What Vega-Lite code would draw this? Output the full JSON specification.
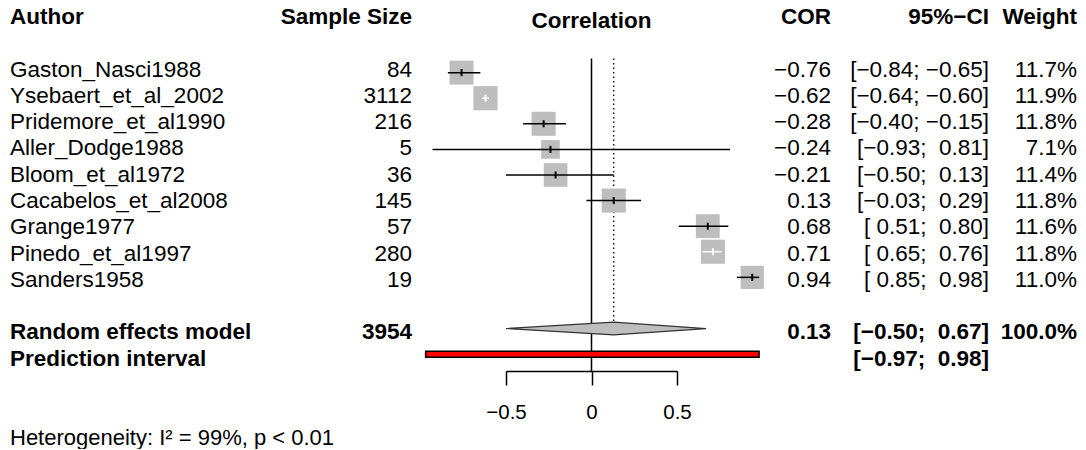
{
  "$schema": "https://vega.github.io/schema/vega-lite/v6.json",
  "padding": {"left": 10, "top": 0, "right": 0, "bottom": 0},
  "bounds": "flush",
  "spacing": 94,
  "config": {
    "view": {"stroke": null},
    "font": "Liberation Sans",
    "text": {"font": "Liberation Sans", "fontSize": 22.5, "color": "black", "baseline": "middle"},
    "axis": {"grid": false, "title": null}
  },
  "datasets": {
    "rows": [
      {"row": 1, "type": "study", "author": "Gaston_Nasci1988", "n": "84", "cor": -0.76, "lower": -0.84, "upper": -0.65, "weight": 11.7, "corText": "−0.76", "ciText": "[−0.84; −0.65]", "wText": "11.7%"},
      {"row": 2, "type": "study", "author": "Ysebaert_et_al_2002", "n": "3112", "cor": -0.62, "lower": -0.64, "upper": -0.60, "weight": 11.9, "corText": "−0.62", "ciText": "[−0.64; −0.60]", "wText": "11.9%"},
      {"row": 3, "type": "study", "author": "Pridemore_et_al1990", "n": "216", "cor": -0.28, "lower": -0.40, "upper": -0.15, "weight": 11.8, "corText": "−0.28", "ciText": "[−0.40; −0.15]", "wText": "11.8%"},
      {"row": 4, "type": "study", "author": "Aller_Dodge1988", "n": "5", "cor": -0.24, "lower": -0.93, "upper": 0.81, "weight": 7.1, "corText": "−0.24", "ciText": "[−0.93; \u00a00.81]", "wText": "7.1%"},
      {"row": 5, "type": "study", "author": "Bloom_et_al1972", "n": "36", "cor": -0.21, "lower": -0.50, "upper": 0.13, "weight": 11.4, "corText": "−0.21", "ciText": "[−0.50; \u00a00.13]", "wText": "11.4%"},
      {"row": 6, "type": "study", "author": "Cacabelos_et_al2008", "n": "145", "cor": 0.13, "lower": -0.03, "upper": 0.29, "weight": 11.8, "corText": "0.13", "ciText": "[−0.03; \u00a00.29]", "wText": "11.8%"},
      {"row": 7, "type": "study", "author": "Grange1977", "n": "57", "cor": 0.68, "lower": 0.51, "upper": 0.80, "weight": 11.6, "corText": "0.68", "ciText": "[\u00a00.51; \u00a00.80]", "wText": "11.6%"},
      {"row": 8, "type": "study", "author": "Pinedo_et_al1997", "n": "280", "cor": 0.71, "lower": 0.65, "upper": 0.76, "weight": 11.8, "corText": "0.71", "ciText": "[\u00a00.65; \u00a00.76]", "wText": "11.8%"},
      {"row": 9, "type": "study", "author": "Sanders1958", "n": "19", "cor": 0.94, "lower": 0.85, "upper": 0.98, "weight": 11.0, "corText": "0.94", "ciText": "[\u00a00.85; \u00a00.98]", "wText": "11.0%"},
      {"row": 11, "type": "summary", "author": "Random effects model", "n": "3954", "cor": 0.13, "lower": -0.50, "upper": 0.67, "weight": 100.0, "corText": "0.13", "ciText": "[−0.50; \u00a00.67]", "wText": "100.0%"},
      {"row": 12, "type": "prediction", "author": "Prediction interval", "n": "", "lower": -0.97, "upper": 0.98, "corText": "", "ciText": "[−0.97; \u00a00.98]", "wText": ""}
    ],
    "header": [
      {"row": -1, "author": "Author", "n": "Sample Size", "title": "Correlation", "cor": "COR", "ci": "95%−CI", "weight": "Weight"}
    ],
    "diamond": [
      {"x": -0.50, "ytop": 11, "ybottom": 11},
      {"x": 0.13, "ytop": 10.75, "ybottom": 11.25},
      {"x": 0.67, "ytop": 11, "ybottom": 11}
    ],
    "notes": [
      {"row": 15, "text": "Heterogeneity: I² = 99%, p < 0.01"}
    ],
    "reference": [
      {"x": 0, "top": 0.45}
    ]
  },
  "hconcat": [
    {
      "width": 402,
      "height": 371,
      "layer": [
        {
          "data": {"name": "header"},
          "mark": {"type": "text", "align": "left", "fontWeight": "bold", "x": 0},
          "encoding": {
            "y": {"field": "row", "type": "quantitative", "scale": {"domain": [-1.643, 12.464], "reverse": true, "nice": false, "zero": false}, "axis": null},
            "text": {"field": "author"}
          }
        },
        {
          "data": {"name": "header"},
          "mark": {"type": "text", "align": "right", "fontWeight": "bold", "x": "width"},
          "encoding": {
            "y": {"field": "row", "type": "quantitative", "scale": {"domain": [-1.643, 12.464], "reverse": true, "nice": false, "zero": false}, "axis": null},
            "text": {"field": "n"}
          }
        },
        {
          "data": {"name": "rows"},
          "transform": [{"filter": "datum.type === 'study'"}],
          "mark": {"type": "text", "align": "left", "x": 0},
          "encoding": {
            "y": {"field": "row", "type": "quantitative", "scale": {"domain": [-1.643, 12.464], "reverse": true, "nice": false, "zero": false}, "axis": null},
            "text": {"field": "author"}
          }
        },
        {
          "data": {"name": "rows"},
          "transform": [{"filter": "datum.type === 'study'"}],
          "mark": {"type": "text", "align": "right", "x": "width"},
          "encoding": {
            "y": {"field": "row", "type": "quantitative", "scale": {"domain": [-1.643, 12.464], "reverse": true, "nice": false, "zero": false}, "axis": null},
            "text": {"field": "n"}
          }
        },
        {
          "data": {"name": "rows"},
          "transform": [{"filter": "datum.type !== 'study'"}],
          "mark": {"type": "text", "align": "left", "fontWeight": "bold", "x": 0},
          "encoding": {
            "y": {"field": "row", "type": "quantitative", "scale": {"domain": [-1.643, 12.464], "reverse": true, "nice": false, "zero": false}, "axis": null},
            "text": {"field": "author"}
          }
        },
        {
          "data": {"name": "rows"},
          "transform": [{"filter": "datum.type !== 'study'"}],
          "mark": {"type": "text", "align": "right", "fontWeight": "bold", "x": "width"},
          "encoding": {
            "y": {"field": "row", "type": "quantitative", "scale": {"domain": [-1.643, 12.464], "reverse": true, "nice": false, "zero": false}, "axis": null},
            "text": {"field": "n"}
          }
        },
        {
          "data": {"name": "notes"},
          "mark": {"type": "text", "align": "left", "fontSize": 22, "x": 0},
          "encoding": {
            "y": {"field": "row", "type": "quantitative", "scale": {"domain": [-1.643, 12.464], "reverse": true, "nice": false, "zero": false}, "axis": null},
            "text": {"field": "text"}
          }
        }
      ]
    },
    {
      "width": 171,
      "height": 371,
      "layer": [
        {
          "data": {"name": "reference"},
          "mark": {"type": "rule", "color": "black", "strokeWidth": 1.5},
          "encoding": {
            "x": {"field": "x", "type": "quantitative", "scale": {"domain": [-0.5, 0.5], "nice": false, "zero": false},
              "axis": {"values": [-0.5, 0, 0.5], "labelExpr": "datum.value === 0 ? '0' : format(datum.value, '.1f')", "domainColor": "black", "tickColor": "black", "domainWidth": 1.5, "tickWidth": 1.5, "tickSize": 14, "labelFontSize": 20.5, "labelFont": "Liberation Sans", "labelColor": "black", "labelPadding": 17, "labelFlush": false, "labelOverlap": false, "labelBound": false}},
            "y": {"field": "top", "type": "quantitative", "scale": {"domain": [-1.643, 12.464], "reverse": true, "nice": false, "zero": false}, "axis": null},
            "y2": {"value": "height"}
          }
        },
        {
          "data": {"name": "rows"},
          "transform": [{"filter": "datum.type === 'summary'"}],
          "mark": {"type": "rule", "color": "black", "strokeWidth": 1.3, "strokeDash": [1.5, 3]},
          "encoding": {
            "x": {"field": "cor", "type": "quantitative"},
            "y": {"datum": 0.45, "type": "quantitative"},
            "y2": {"datum": 10.75}
          }
        },
        {
          "data": {"name": "rows"},
          "transform": [{"filter": "datum.type === 'study'"}],
          "mark": {"type": "square", "filled": true, "color": "#BEBEBE", "opacity": 1},
          "encoding": {
            "x": {"field": "cor", "type": "quantitative"},
            "y": {"field": "row", "type": "quantitative"},
            "size": {"field": "weight", "type": "quantitative", "scale": {"type": "linear", "domain": [0, 12], "range": [0, 590]}, "legend": null}
          }
        },
        {
          "data": {"name": "rows"},
          "transform": [{"filter": "datum.type === 'study'"}],
          "mark": {"type": "rule", "strokeWidth": 1.5},
          "encoding": {
            "x": {"field": "lower", "type": "quantitative"},
            "x2": {"field": "upper"},
            "y": {"field": "row", "type": "quantitative"},
            "color": {"condition": {"test": "datum.upper - datum.lower < 0.12", "value": "white"}, "value": "black"}
          }
        },
        {
          "data": {"name": "rows"},
          "transform": [{"filter": "datum.type === 'study'"}],
          "mark": {"type": "tick", "orient": "vertical", "size": 7, "thickness": 2, "opacity": 1},
          "encoding": {
            "x": {"field": "cor", "type": "quantitative"},
            "y": {"field": "row", "type": "quantitative"},
            "color": {"condition": {"test": "datum.upper - datum.lower < 0.12", "value": "white"}, "value": "black"}
          }
        },
        {
          "data": {"name": "diamond"},
          "mark": {"type": "area", "orient": "vertical", "fill": "#BEBEBE", "stroke": "#333333", "strokeWidth": 1.2, "opacity": 1},
          "encoding": {
            "x": {"field": "x", "type": "quantitative"},
            "y": {"field": "ytop", "type": "quantitative"},
            "y2": {"field": "ybottom"}
          }
        },
        {
          "data": {"name": "rows"},
          "transform": [{"filter": "datum.type === 'prediction'"}],
          "mark": {"type": "bar", "size": 6, "fill": "red", "stroke": "black", "strokeWidth": 1.5, "opacity": 1},
          "encoding": {
            "x": {"field": "lower", "type": "quantitative"},
            "x2": {"field": "upper"},
            "y": {"field": "row", "type": "quantitative"}
          }
        },
        {
          "data": {"name": "header"},
          "mark": {"type": "text", "align": "center", "fontWeight": "bold"},
          "encoding": {
            "x": {"datum": 0, "type": "quantitative"},
            "y": {"field": "row", "type": "quantitative"},
            "text": {"field": "title"}
          }
        }
      ]
    },
    {
      "bounds": "flush",
      "spacing": 0,
      "hconcat": [
        {
          "width": 60,
          "height": 371,
          "layer": [
            {
              "data": {"name": "header"},
              "mark": {"type": "text", "align": "right", "fontWeight": "bold", "x": "width"},
              "encoding": {
                "y": {"field": "row", "type": "quantitative", "scale": {"domain": [-1.643, 12.464], "reverse": true, "nice": false, "zero": false}, "axis": null},
                "text": {"field": "cor"}
              }
            },
            {
              "data": {"name": "rows"},
              "transform": [{"filter": "datum.type === 'study'"}],
              "mark": {"type": "text", "align": "right", "x": "width"},
              "encoding": {
                "y": {"field": "row", "type": "quantitative", "scale": {"domain": [-1.643, 12.464], "reverse": true, "nice": false, "zero": false}, "axis": null},
                "text": {"field": "corText"}
              }
            },
            {
              "data": {"name": "rows"},
              "transform": [{"filter": "datum.type !== 'study'"}],
              "mark": {"type": "text", "align": "right", "fontWeight": "bold", "x": "width"},
              "encoding": {
                "y": {"field": "row", "type": "quantitative", "scale": {"domain": [-1.643, 12.464], "reverse": true, "nice": false, "zero": false}, "axis": null},
                "text": {"field": "corText"}
              }
            }
          ]
        },
        {
          "width": 158,
          "height": 371,
          "layer": [
            {
              "data": {"name": "header"},
              "mark": {"type": "text", "align": "right", "fontWeight": "bold", "x": "width"},
              "encoding": {
                "y": {"field": "row", "type": "quantitative", "scale": {"domain": [-1.643, 12.464], "reverse": true, "nice": false, "zero": false}, "axis": null},
                "text": {"field": "ci"}
              }
            },
            {
              "data": {"name": "rows"},
              "transform": [{"filter": "datum.type === 'study'"}],
              "mark": {"type": "text", "align": "right", "x": "width"},
              "encoding": {
                "y": {"field": "row", "type": "quantitative", "scale": {"domain": [-1.643, 12.464], "reverse": true, "nice": false, "zero": false}, "axis": null},
                "text": {"field": "ciText"}
              }
            },
            {
              "data": {"name": "rows"},
              "transform": [{"filter": "datum.type !== 'study'"}],
              "mark": {"type": "text", "align": "right", "fontWeight": "bold", "x": "width"},
              "encoding": {
                "y": {"field": "row", "type": "quantitative", "scale": {"domain": [-1.643, 12.464], "reverse": true, "nice": false, "zero": false}, "axis": null},
                "text": {"field": "ciText"}
              }
            }
          ]
        },
        {
          "width": 88,
          "height": 371,
          "layer": [
            {
              "data": {"name": "header"},
              "mark": {"type": "text", "align": "right", "fontWeight": "bold", "x": "width"},
              "encoding": {
                "y": {"field": "row", "type": "quantitative", "scale": {"domain": [-1.643, 12.464], "reverse": true, "nice": false, "zero": false}, "axis": null},
                "text": {"field": "weight"}
              }
            },
            {
              "data": {"name": "rows"},
              "transform": [{"filter": "datum.type === 'study'"}],
              "mark": {"type": "text", "align": "right", "x": "width"},
              "encoding": {
                "y": {"field": "row", "type": "quantitative", "scale": {"domain": [-1.643, 12.464], "reverse": true, "nice": false, "zero": false}, "axis": null},
                "text": {"field": "wText"}
              }
            },
            {
              "data": {"name": "rows"},
              "transform": [{"filter": "datum.type !== 'study'"}],
              "mark": {"type": "text", "align": "right", "fontWeight": "bold", "x": "width"},
              "encoding": {
                "y": {"field": "row", "type": "quantitative", "scale": {"domain": [-1.643, 12.464], "reverse": true, "nice": false, "zero": false}, "axis": null},
                "text": {"field": "wText"}
              }
            }
          ]
        }
      ]
    }
  ]
}
